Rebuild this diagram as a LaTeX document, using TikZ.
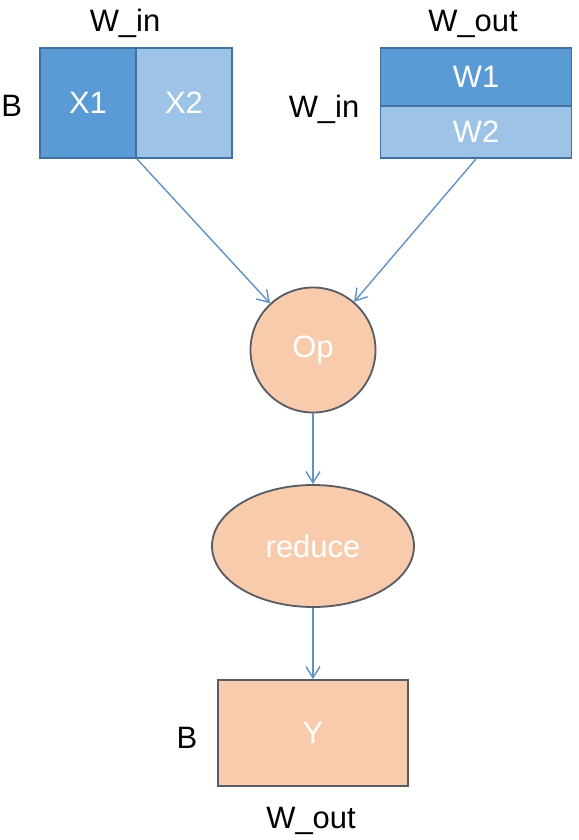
\documentclass[tikz,border=0pt]{standalone}
\usepackage{fontspec}
\setmainfont{Liberation Sans}
\usetikzlibrary{arrows.meta,shapes.geometric}

\definecolor{blkdark}{RGB}{91,155,213}
\definecolor{blklight}{RGB}{157,195,230}
\definecolor{blkedge}{RGB}{65,113,156}
\definecolor{opfill}{RGB}{248,203,173}
\definecolor{opedge}{RGB}{88,92,100}
\definecolor{flow}{RGB}{96,146,198}
\newcommand\figfont{\fontsize{22pt}{26pt}\selectfont}

\begin{document}
\begin{tikzpicture}[
  xcell/.style={draw=blkedge, line width=1.3pt, minimum width=2.4cm, minimum height=2.75cm,
                inner sep=0pt, text=white, font=\figfont},
  wcell/.style={draw=blkedge, line width=1.3pt, minimum width=4.775cm,
                inner sep=0pt, text=white, font=\figfont},
  opn/.style={draw=opedge, fill=opfill, line width=1.3pt, inner sep=0pt,
              text=white, font=\figfont},
  lbl/.style={anchor=base, font=\figfont, inner sep=0pt},
  flw/.style={->, draw=flow, line width=1pt},
  >={Straight Barb[length=8pt,width=10pt]}
]
  \useasboundingbox (0,0) rectangle (14.45,-21);

  \node[lbl] (xin)  at (3.125,-0.775)  {W\_in};
  \node[lbl] (xb)   at (0.29,-2.9)     {B};
  \node[xcell, fill=blkdark]  (x1) at (2.2,-2.575) {X1};
  \node[xcell, fill=blklight] (x2) at (4.6,-2.575) {X2};

  \node[lbl] (wout) at (11.825,-0.775) {W\_out};
  \node[lbl] (win)  at (8.1,-2.925)    {W\_in};
  \node[wcell, fill=blkdark,  minimum height=1.45cm] (w1) at (11.9,-1.925) {W1};
  \node[wcell, fill=blklight, minimum height=1.3cm]  (w2) at (11.9,-3.3)   {W2};

  \node[opn, circle, minimum size=3.125cm] (op) at (7.825,-8.75) {Op};
  \node[opn, ellipse, minimum width=5.05cm, minimum height=3.05cm] (red) at (7.825,-13.65) {reduce};
  \node[opn, rectangle, minimum width=4.75cm, minimum height=2.65cm] (y) at (7.825,-18.325) {Y};
  \node[lbl] (yb)   at (4.675,-18.7)   {B};
  \node[lbl] (yout) at (7.775,-20.7)   {W\_out};

  \draw[flw] (x1.south east) -- (op);
  \draw[flw] (w2.south) -- (op);
  \draw[flw] (op) -- (red);
  \draw[flw] (red) -- (y);
\end{tikzpicture}
\end{document}
